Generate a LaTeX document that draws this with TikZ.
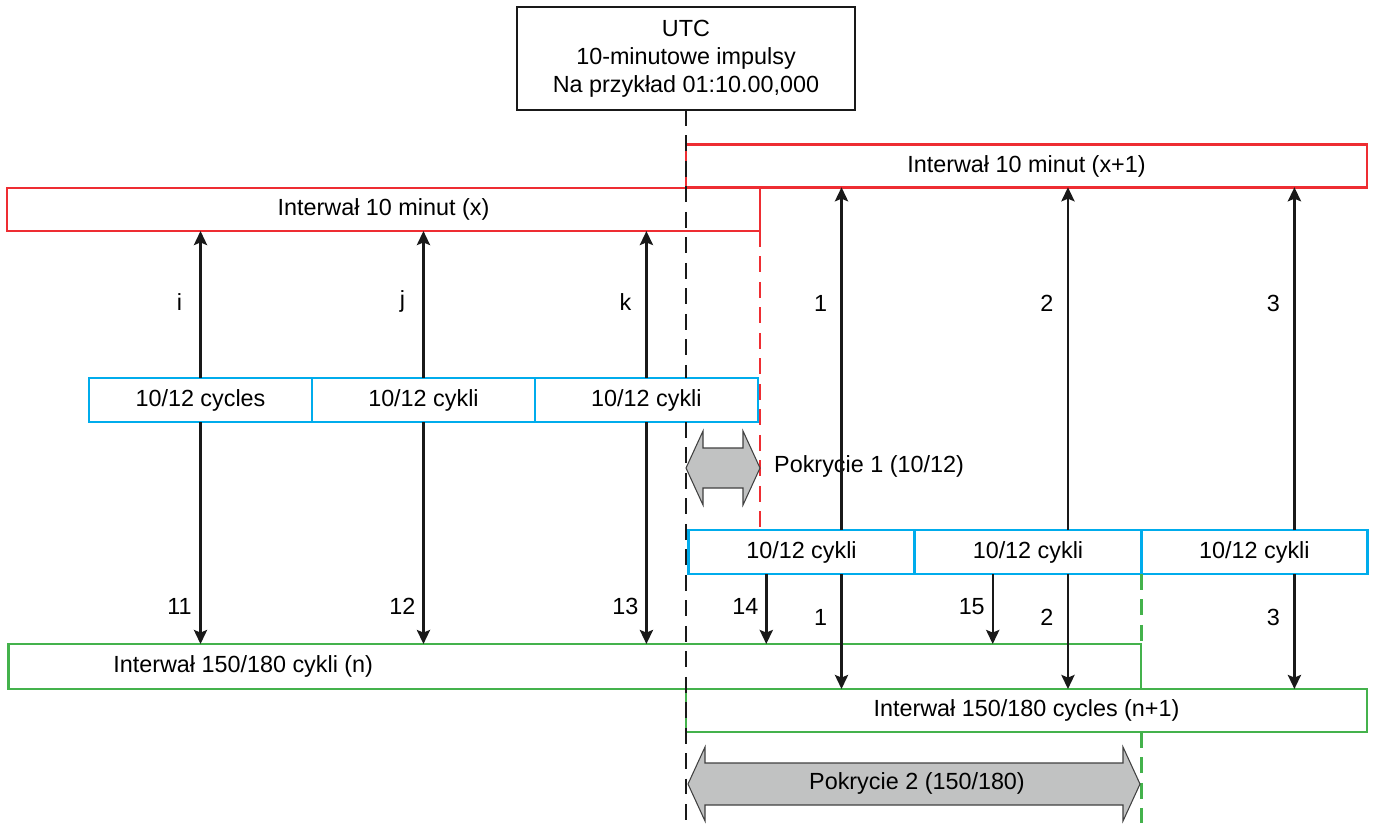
\documentclass[tikz,border=0pt]{standalone}
\usepackage{fontspec}
\setmainfont{Liberation Sans}
\usetikzlibrary{arrows.meta,positioning,calc}
\definecolor{intred}{RGB}{238,45,50}
\definecolor{cycblue}{RGB}{0,172,236}
\definecolor{intgreen}{RGB}{68,178,76}
\definecolor{covergray}{RGB}{193,194,194}

\begin{document}
\begin{tikzpicture}[x=0.02cm,y=-0.02cm,
  font=\fontsize{13.3}{16}\selectfont,
  utcbox/.style={draw=black!90,line width=1.5pt,minimum width=6.76cm,
    minimum height=2.06cm,align=center,inner sep=0pt,outer sep=0pt},
  redbox/.style={draw=intred,line width=1.6pt,minimum height=0.85cm,inner sep=0pt,outer sep=0pt},
  bluebox/.style={draw=cycblue,line width=1.5pt,minimum height=0.88cm,inner sep=0pt,outer sep=0pt},
  greenbox/.style={draw=intgreen,line width=1.6pt,minimum height=0.88cm,inner sep=0pt,outer sep=0pt},
  arrow/.style={-{Stealth[length=8pt,width=7.5pt,inset=1.5pt]},line width=1.4pt,draw=black!90},
  lbl/.style={xshift=-0.42cm,inner sep=0pt},
  cover/.style={draw=black!75,line width=0.6pt,fill=covergray},
  dashline/.style={line width=1.5pt,dash pattern=on 9pt off 5.5pt}]
\useasboundingbox (0,0) rectangle (1375,823);
\node[utcbox] (utc) at (686,58.5) {UTC\\10-minutowe impulsy\\Na przykład 01:10.00,000};
\node[redbox,minimum width=13.62cm] (rx1) at (1026.5,166) {Interwał 10 minut (x+1)};
\node[redbox,minimum width=15.06cm,minimum height=0.86cm] (rx) at (383.5,209.5) {Interwał 10 minut (x)};
\node[bluebox,minimum width=4.46cm] (b1) at (200.5,400) {10/12 cycles};
\node[bluebox,minimum width=4.46cm,right=0pt of b1] (b2) {10/12 cykli};
\node[bluebox,minimum width=4.46cm,right=0pt of b2] (b3) {10/12 cykli};
\node[bluebox,minimum width=4.53cm] (c1) at (801.5,552) {10/12 cykli};
\node[bluebox,minimum width=4.53cm,right=0pt of c1] (c2) {10/12 cykli};
\node[bluebox,minimum width=4.53cm,right=0pt of c2] (c3) {10/12 cykli};
\node[greenbox,minimum width=22.66cm,minimum height=0.9cm] (gn) at (574.5,666.5) {};
\node[anchor=west] (gnt) at ([xshift=1.98cm]gn.west) {Interwał 150/180 cykli (n)};
\node[greenbox,minimum width=13.62cm,minimum height=0.86cm] (gn1) at (1026.5,710.5) {Interwał 150/180 cycles (n+1)};
\coordinate (bottom) at (686,823);
% time marks
\draw[dashline,black!90] (utc.south) -- (utc.south |- b3.north);
\draw[dashline,black!90] (utc.south |- b3.south) -- (bottom);
\draw[dashline,intred] (rx.south east) -- (rx.south east |- c1.north);
\draw[dashline,intgreen] (c3.south west) -- (c3.south west |- gn.north);
\draw[dashline,intgreen] (c3.south west |- gn1.south) -- (c3.south west |- bottom);
% overlaps
\filldraw[cover] (686,468) -- (703,431) -- (703,448) -- (743,448) -- (743,431) -- (760,468)
  -- (743,505) -- (743,488) -- (703,488) -- (703,505) -- cycle;
\node[anchor=west] (p1) at (768,466) {Pokrycie 1 (10/12)};
\filldraw[cover] (688,784) -- (705,747) -- (705,763) -- (1123,763) -- (1123,747) -- (1140,784)
  -- (1123,821) -- (1123,805) -- (705,805) -- (705,821) -- cycle;
\node (p2) at (917,783) {Pokrycie 2 (150/180)};
% arrows of interval (x)
\foreach \n/\up/\dn in {1/i/11,2/j/12,3/k/13} {
  \draw[arrow] (b\n.north) -- node[lbl,pos=.52] {\up} (b\n.north |- rx.south);
  \draw[arrow] (b\n.south) -- node[lbl,pos=.83] {\dn} (b\n.south |- gn.north);
}
% arrows of interval (x+1)
\foreach \n in {1,2,3} {
  \coordinate (t\n) at ($(c\n.north)+(40,0)$);
  \coordinate (s\n) at ($(c\n.south)+(40,0)$);
  \draw[arrow] (t\n) -- node[lbl,pos=.66] {\n} (t\n |- rx1.south);
  \draw[arrow] (s\n) -- node[lbl,pos=.38] {\n} (s\n |- gn1.north);
}
\foreach \n/\lab in {1/14,2/15} {
  \coordinate (h\n) at ($(c\n.south west)+(78,0)$);
  \draw[arrow] (h\n) -- node[lbl,pos=.47] {\lab} (h\n |- gn.north);
}
\end{tikzpicture}
\end{document}
